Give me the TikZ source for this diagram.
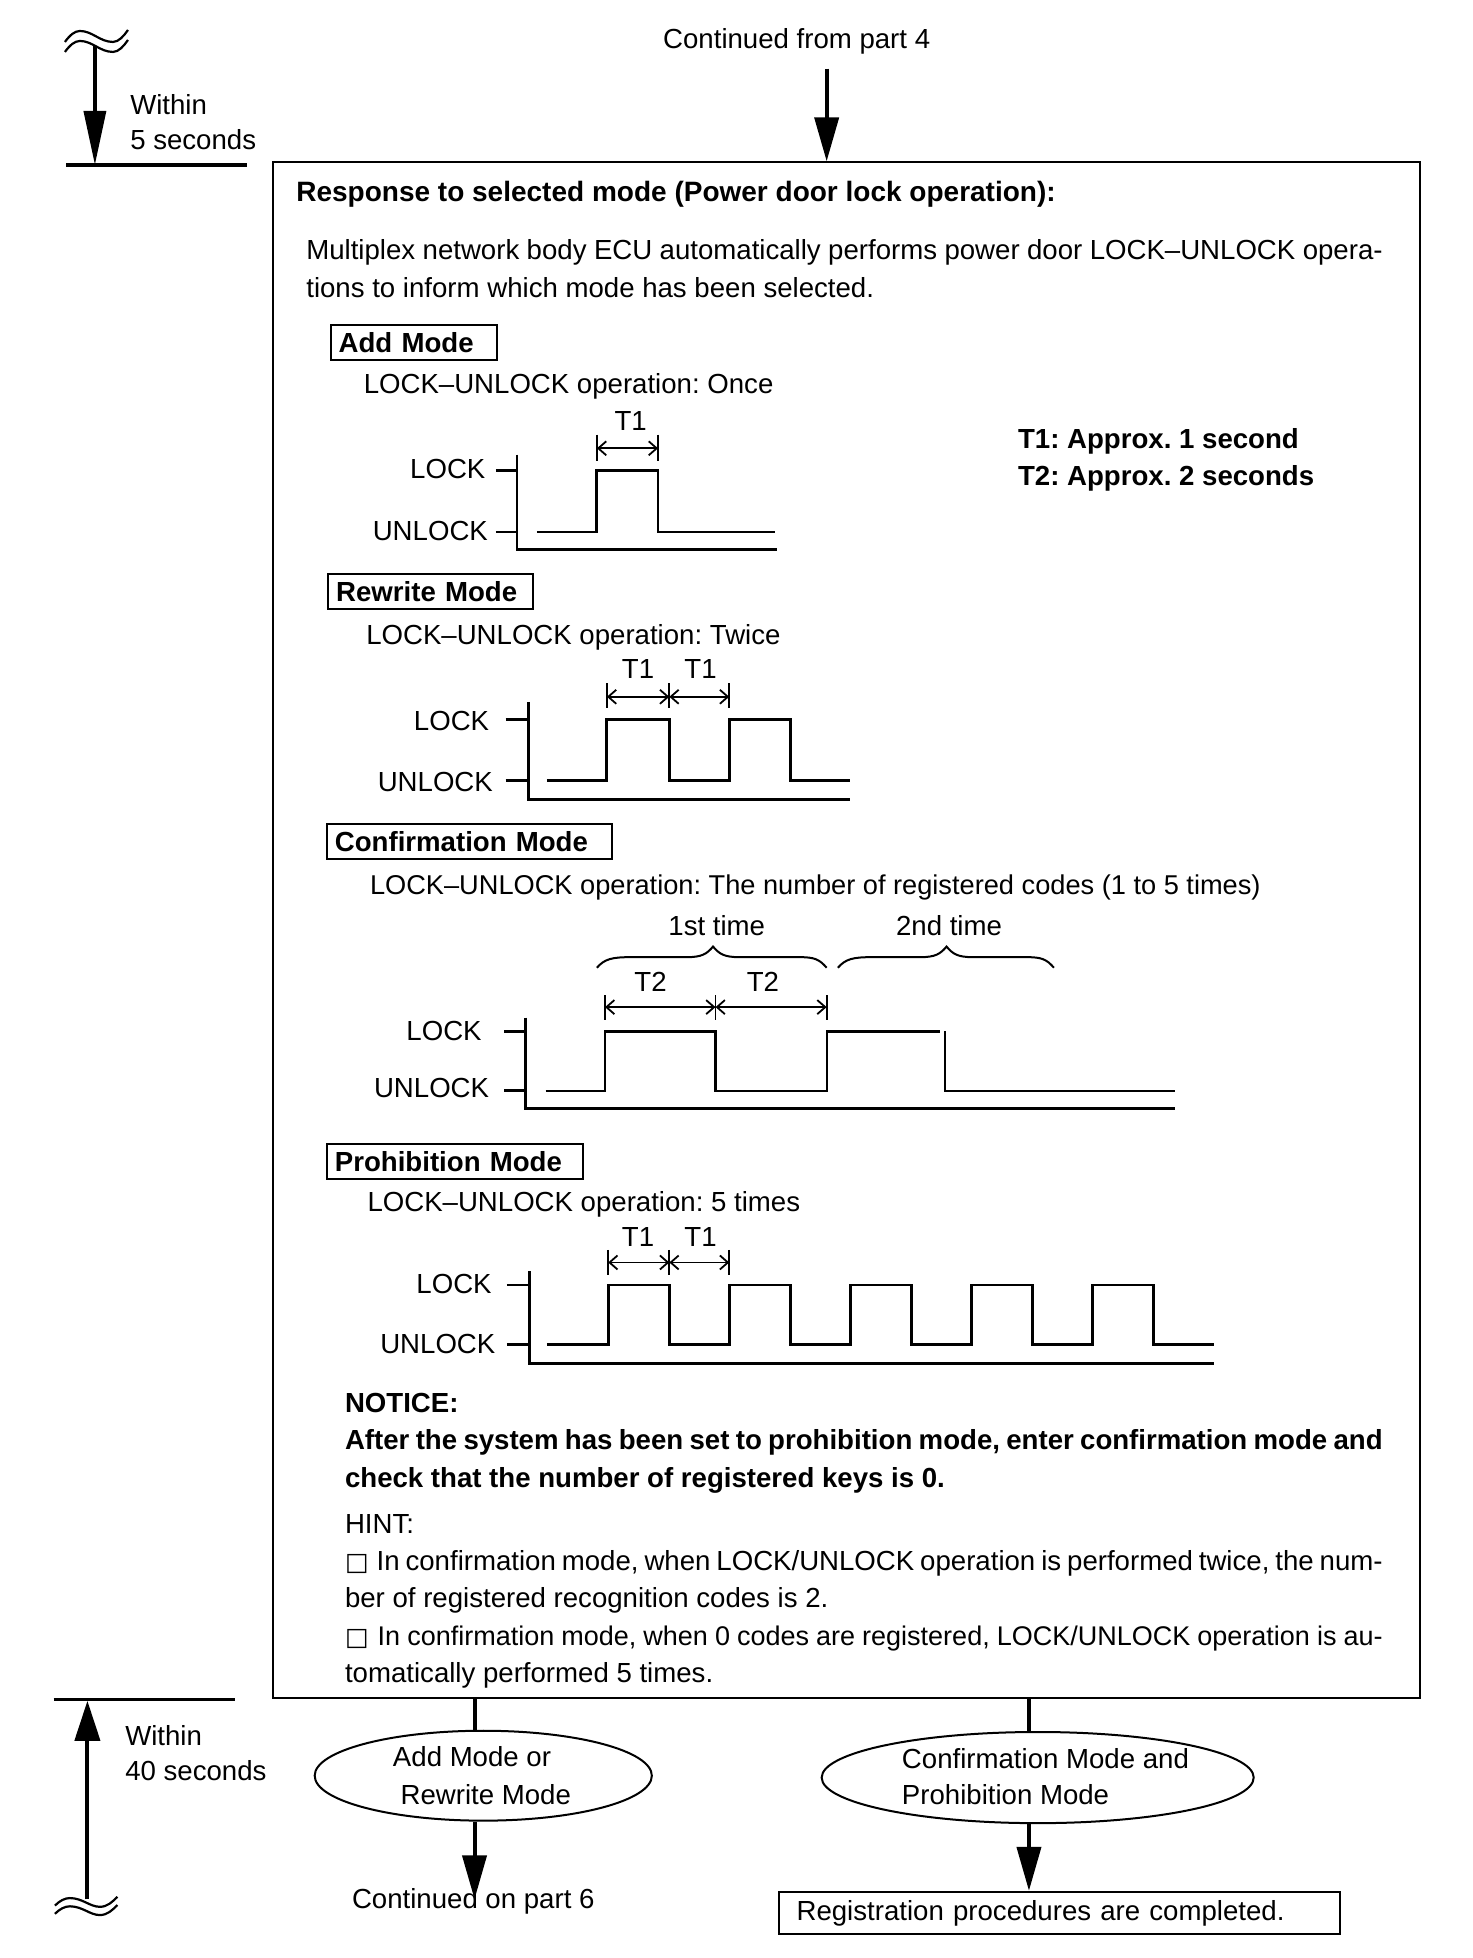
\documentclass[tikz,border=0pt]{standalone}
\usepackage{fontspec}
\setmainfont{Liberation Sans}
\newfontfamily\symfnt{DejaVu Sans}
\usetikzlibrary{arrows.meta,shapes.geometric}
\newcommand\bodyfnt{\fontsize{13.8}{18.7}\selectfont}
\newcommand\hintbox{{\symfnt\fontsize{12.5}{12.5}\selectfont □}}
\frenchspacing
\begin{document}
\begin{tikzpicture}[x=0.62425pt,y=-0.62425pt,
  txt/.style={anchor=base west,inner sep=0pt,font=\bodyfnt},
  ctxt/.style={anchor=base,inner sep=0pt,font=\bodyfnt},
  rtxt/.style={anchor=base east,inner sep=0pt,font=\bodyfnt},
  btxt/.style={anchor=base west,inner sep=0pt,font=\bodyfnt\bfseries},
  modebox/.style={draw,line width=1pt,anchor=west,font=\bodyfnt\bfseries,
    minimum height=17.48pt,inner xsep=4pt,inner ysep=0pt,align=left},
  flow/.style={line width=2pt,-{Triangle[length=22pt,width=12pt]}},
  bigflow/.style={line width=1.8pt,-{Triangle[length=27pt,width=11pt]}},
  plainline/.style={line width=2pt},
  thickbar/.style={line width=1.7pt},
  axisline/.style={line width=1.4pt},
  sig/.style={line width=1.4pt},
  thinsig/.style={line width=1.1pt},
  dimtick/.style={line width=0.9pt},
  dimarrow/.style={line width=0.9pt,{Straight Barb[length=4pt,width=7pt]}-{Straight Barb[length=4pt,width=7pt]}},
  wave/.style={line width=1.1pt},
  ]
\useasboundingbox (0,0) rectangle (1179,1568);

% ---------- top-left time marker ----------
\draw[wave] (52,33.6) .. controls (56,28) and (60,24.8) .. (64,24.8)
  .. controls (74,24.8) and (80,33.6) .. (90.5,33.6)
  .. controls (95,33.6) and (99,29) .. (102.5,24);
\draw[wave] (52,41.6) .. controls (56,36) and (60,32.8) .. (64,32.8)
  .. controls (74,32.8) and (80,41.6) .. (90.5,41.6)
  .. controls (95,41.6) and (99,37) .. (102.5,32);
\coordinate (tlstart) at (76,37);
\coordinate (tlend) at (76,132);
\draw[thickbar] (53,132) -- (198,132);
\draw[bigflow] (tlstart) -- (tlend);
\node[txt] (w5a) at (104,92) {Within};
\node[txt] (w5b) at (104,120) {5 seconds};

% ---------- top entry ----------
\node[ctxt] (c4) at (638,39) {Continued from part 4};
\coordinate (a4) at (662,55);

% ---------- main box ----------
\node[draw,line width=1pt,minimum width=573.06pt,minimum height=767.83pt,inner sep=0pt] (mainbox) at (678,745) {};
\draw[flow] (a4) -- (mainbox.north -| a4);

\node[btxt,font=\fontsize{14}{18.7}\selectfont\bfseries] (title) at (237,161) {Response to selected mode (Power door lock operation):};
\node[txt] (p1) at (245,208) {\makebox[538.1pt][s]{Multiplex network body ECU automatically performs power door LOCK–UNLOCK opera-}};
\node[txt] (p2) at (245,238) {tions to inform which mode has been selected.};

% ---------- Add mode ----------
\node[modebox,text width=75.03pt] (addbox) at (264,274) {Add Mode};
\node[txt] (op1) at (291,315) {LOCK–UNLOCK operation: Once};
\node[ctxt] (t1a) at (505,345) {T1};
\node[btxt] (leg1) at (815,359) {T1: Approx. 1 second};
\node[btxt] (leg2) at (815,389) {T2: Approx. 2 seconds};
\node[rtxt] (lk1) at (389,383) {LOCK};
\node[rtxt] (ul1) at (391,433) {UNLOCK};
\draw[axisline] (414,364) -- (414,440) -- (622,440);
\draw[axisline] (397,377) -- (414,377);
\draw[axisline] (397,426) -- (414,426);
\draw[sig] (430,426) -- (478,426) -- (478,377) -- (527,377) -- (527,426) -- (621,426);
\draw[dimtick] (478,348) -- (478,369) (527,348) -- (527,369);
\draw[dimarrow] (478,359) -- (527,359);

% ---------- Rewrite mode ----------
\node[modebox,text width=94.38pt] (rwbox) at (262,474) {Rewrite Mode};
\node[txt] (op2) at (293,516) {LOCK–UNLOCK operation: Twice};
\node[ctxt] (t1b) at (511,543) {T1};
\node[ctxt] (t1c) at (561,543) {T1};
\node[rtxt] (lk2) at (392,585) {LOCK};
\node[rtxt] (ul2) at (395,634) {UNLOCK};
\draw[axisline] (423,562) -- (423,640) -- (681,640);
\draw[axisline] (405,576) -- (423,576);
\draw[axisline] (405,625) -- (423,625);
\draw[sig] (438,625) -- (486,625) -- (486,576) -- (536,576) -- (536,625) -- (584,625) -- (584,576) -- (633,576) -- (633,625) -- (681,625);
\draw[dimtick] (486,547) -- (486,567) (536,547) -- (536,567) (584,547) -- (584,567);
\draw[dimarrow] (486,558) -- (536,558);
\draw[dimarrow] (536,558) -- (584,558);

% ---------- Confirmation mode ----------
\node[modebox,text width=134.33pt] (cfbox) at (261,674) {Confirmation Mode};
\node[txt,font=\fontsize{13.6}{18.7}\selectfont] (op3) at (296,716) {LOCK–UNLOCK operation: The number of registered codes (1 to 5 times)};
\node[ctxt] (first) at (574,749) {1st time};
\node[ctxt] (second) at (760,749) {2nd time};
\draw[line width=1pt] (478,775) .. controls (484,768) and (490,766.5) .. (505,766.5) -- (550,766.5)
  .. controls (562,766.5) and (566,764) .. (571,758)
  .. controls (576,764) and (580,766.5) .. (592,766.5) -- (640,766.5)
  .. controls (652,766.5) and (656,768) .. (662,775);
\draw[line width=1pt] (671,775) .. controls (677,768) and (683,766.5) .. (698,766.5) -- (737,766.5)
  .. controls (749,766.5) and (753,764) .. (758,758)
  .. controls (763,764) and (767,766.5) .. (779,766.5) -- (822,766.5)
  .. controls (834,766.5) and (838,768) .. (844,775);
\node[ctxt] (t2a) at (521,794) {T2};
\node[ctxt] (t2b) at (611,794) {T2};
\node[rtxt] (lk3) at (386,833) {LOCK};
\node[rtxt] (ul3) at (392,879) {UNLOCK};
\draw[axisline] (421,815) -- (421,888) -- (941,888);
\draw[axisline] (404,826) -- (421,826);
\draw[axisline] (404,873) -- (421,873);
\draw[thinsig] (437,874) -- (484.5,874) -- (484.5,826) -- (573,826) -- (573,874) -- (662,874) -- (662,826) -- (753,826);
\draw[thinsig] (757,826) -- (757,874) -- (941,874);
\draw[dimtick] (484.5,797) -- (484.5,817) (573,797) -- (573,817) (662,797) -- (662,817);
\draw[dimarrow] (484.5,806.5) -- (573,806.5);
\draw[dimarrow] (573,806.5) -- (662,806.5);

% ---------- Prohibition mode ----------
\node[modebox,text width=119.97pt] (prbox) at (261,930) {Prohibition Mode};
\node[txt] (op4) at (294,970) {LOCK–UNLOCK operation: 5 times};
\node[ctxt] (t1d) at (511,998) {T1};
\node[ctxt] (t1e) at (561,998) {T1};
\node[rtxt] (lk4) at (394,1036) {LOCK};
\node[rtxt] (ul4) at (397,1084) {UNLOCK};
\draw[axisline] (424,1018) -- (424,1092) -- (972,1092);
\draw[axisline] (406,1029) -- (424,1029);
\draw[axisline] (406,1077) -- (424,1077);
\draw[sig] (438,1077) -- (487,1077) -- (487,1029) -- (536,1029) -- (536,1077)
  -- (584,1077) -- (584,1029) -- (633,1029) -- (633,1077)
  -- (681,1077) -- (681,1029) -- (730,1029) -- (730,1077)
  -- (778,1077) -- (778,1029) -- (827,1029) -- (827,1077)
  -- (875,1077) -- (875,1029) -- (924,1029) -- (924,1077) -- (972,1077);
\draw[dimtick] (487,1001) -- (487,1021) (536,1001) -- (536,1021) (584,1001) -- (584,1021);
\draw[dimarrow] (487,1011) -- (536,1011);
\draw[dimarrow] (536,1011) -- (584,1011);

% ---------- Notice and hint ----------
\node[btxt] (notice) at (276,1131) {NOTICE:};
\node[btxt] (n1) at (276,1161) {\makebox[518.75pt][s]{After the system has been set to prohibition mode, enter confirmation mode and}};
\node[btxt] (n2) at (276,1191) {check that the number of registered keys is 0.};
\node[txt] (hint) at (276,1228) {HINT:};
\node[txt] (h1) at (276,1258) {\makebox[518.75pt][s]{\hintbox\kern1pt\ In confirmation mode, when LOCK/UNLOCK operation is performed twice, the num-}};
\node[txt] (h2) at (276,1287) {ber of registered recognition codes is 2.};
\node[txt,font=\fontsize{13.5}{18.7}\selectfont] (h3) at (276,1318) {\makebox[518.75pt][s]{\hintbox\kern1pt\ In confirmation mode, when 0 codes are registered, LOCK/UNLOCK operation is au-}};
\node[txt] (h4) at (276,1347) {tomatically performed 5 times.};

% ---------- bottom-left time marker ----------
\draw[thickbar] (43,1361) -- (188,1361);
\coordinate (blstart) at (70,1521);
\coordinate (blend) at (70,1362);
\draw[line width=2pt,-{Triangle[length=20pt,width=12.5pt]}] (blstart) -- (blend);
\draw[wave] (44,1526) .. controls (48,1522) and (52,1520) .. (56,1520)
  .. controls (66,1520) and (72,1527) .. (80,1527)
  .. controls (86,1527) and (90,1523) .. (94,1519);
\draw[wave] (44,1532.6) .. controls (48,1528.6) and (52,1526.6) .. (56,1526.6)
  .. controls (66,1526.6) and (72,1533.6) .. (80,1533.6)
  .. controls (86,1533.6) and (90,1529.6) .. (94,1525.6);
\node[txt] (w40a) at (100,1398) {Within};
\node[txt] (w40b) at (100,1426) {40 seconds};

% ---------- bottom branches ----------
\node[ellipse,draw,line width=1pt,minimum width=168.55pt,minimum height=44.95pt,inner sep=0pt] (e1) at (387,1422) {};
\node[ctxt] (e1a) at (378,1415) {Add Mode or};
\node[ctxt] (e1b) at (389,1445) {Rewrite Mode};
\node[ellipse,draw,line width=1pt,minimum width=215.99pt,minimum height=45.57pt,inner sep=0pt] (e2) at (831,1423.5) {};
\node[txt] (e2a) at (722,1416) {Confirmation Mode and};
\node[txt] (e2b) at (722,1445) {Prohibition Mode};
\coordinate (j1) at (380,1400);
\coordinate (c6tip) at (380,1521);
\coordinate (j2) at (824,1400);
\draw[plainline] (mainbox.south -| j1) -- (e1.north -| j1);
\draw[plainline] (mainbox.south -| j2) -- (e2.north -| j2);
\node[ctxt] (c6) at (379,1528) {Continued on part 6};
\draw[flow] (e1.south -| c6tip) -- (c6tip);
\node[draw,line width=1pt,minimum width=280.29pt,minimum height=21.22pt,inner xsep=8.7pt,inner ysep=0pt,text width=262.89pt,align=left,font=\bodyfnt] (reg) at (848.5,1532) {Registration procedures are completed.};
\draw[flow] (e2.south -| j2) -- (reg.north -| j2);
\end{tikzpicture}
\end{document}
